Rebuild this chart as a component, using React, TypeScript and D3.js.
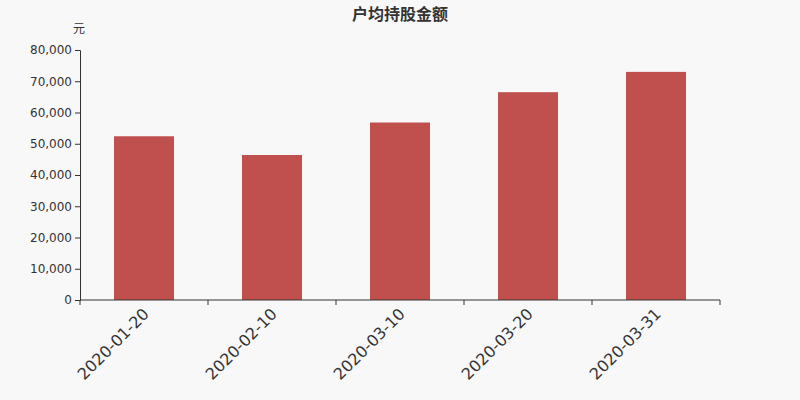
import React, { useEffect, useRef } from 'react';
import * as d3 from 'd3';

const categories = ['2020-01-20', '2020-02-10', '2020-03-10', '2020-03-20', '2020-03-31'];
const values = [52400, 46400, 56800, 66500, 73000];
const yTicks = [0, 10000, 20000, 30000, 40000, 50000, 60000, 70000, 80000];

const W = 800;
const H = 400;
const margin = { top: 50, right: 80, bottom: 100, left: 80 };

const App: React.FC = () => {
  const svgRef = useRef<SVGSVGElement>(null);

  useEffect(() => {
    if (!svgRef.current) return;
    const svg = d3.select(svgRef.current);
    svg.selectAll('*').remove();

    const font = '"DejaVu Sans", "Noto Sans CJK SC", sans-serif';
    const innerW = W - margin.left - margin.right;
    const innerH = H - margin.top - margin.bottom;

    svg.append('rect').attr('width', W).attr('height', H).attr('fill', '#f8f8f8');

    const x = d3.scaleBand().domain(categories).range([0, innerW]).paddingInner(0).paddingOuter(0);
    const y = d3.scaleLinear().domain([0, 80000]).range([innerH, 0]);

    const g = svg.append('g').attr('transform', `translate(${margin.left},${margin.top})`);

    // Bars
    const barW = 60;
    g.selectAll('.bar')
      .data(values)
      .enter()
      .append('rect')
      .attr('class', 'bar')
      .attr('x', (d, i) => x(categories[i])! + (x.bandwidth() - barW) / 2)
      .attr('width', barW)
      .attr('y', d => y(d))
      .attr('height', d => innerH - y(d))
      .attr('fill', '#c0504d');

    // Y axis
    const yAxis = g.append('g')
      .call(d3.axisLeft(y).tickValues(yTicks).tickSize(5).tickPadding(3).tickFormat(d => d3.format(',')(d as number)));
    yAxis.select('.domain').attr('stroke', '#333');
    yAxis.selectAll('.tick line').attr('stroke', '#333');
    yAxis.selectAll('text').attr('fill', '#333').style('font-size', '12px').style('font-family', font);

    // X axis with ticks at band boundaries
    const xAxisG = g.append('g').attr('transform', `translate(0,${innerH})`);
    xAxisG.append('line').attr('x1', 0).attr('x2', innerW).attr('stroke', '#333');
    const boundaries = [...categories.map(c => x(c)!), innerW];
    xAxisG.selectAll('.xtick')
      .data(boundaries)
      .enter()
      .append('line')
      .attr('x1', d => d).attr('x2', d => d)
      .attr('y1', 0).attr('y2', 5)
      .attr('stroke', '#333');
    xAxisG.selectAll('.xlabel')
      .data(categories)
      .enter()
      .append('text')
      .attr('transform', d => `translate(${x(d)! + x.bandwidth() / 2 - 2},${7}) rotate(-45)`)
      .attr('text-anchor', 'end')
      .attr('dy', '0.71em')
      .attr('fill', '#333')
      .style('font-size', '16px')
      .style('font-family', font)
      .text(d => d);

    // Unit label
    svg.append('text')
      .attr('x', 79)
      .attr('y', 33)
      .attr('text-anchor', 'middle')
      .attr('fill', '#333')
      .style('font-size', '12px')
      .style('font-family', font)
      .text('元');

    // Title
    svg.append('text')
      .attr('x', W / 2)
      .attr('y', 20)
      .attr('text-anchor', 'middle')
      .attr('fill', '#333')
      .style('font-size', '16px')
      .style('font-weight', 'bold')
      .style('font-family', font)
      .text('户均持股金额');
  }, []);

  return (
    <div style={{ position: 'fixed', left: 0, top: 0, width: W, height: H }}>
      <svg ref={svgRef} width={W} height={H} style={{ display: 'block' }} />
    </div>
  );
};

export default App;
